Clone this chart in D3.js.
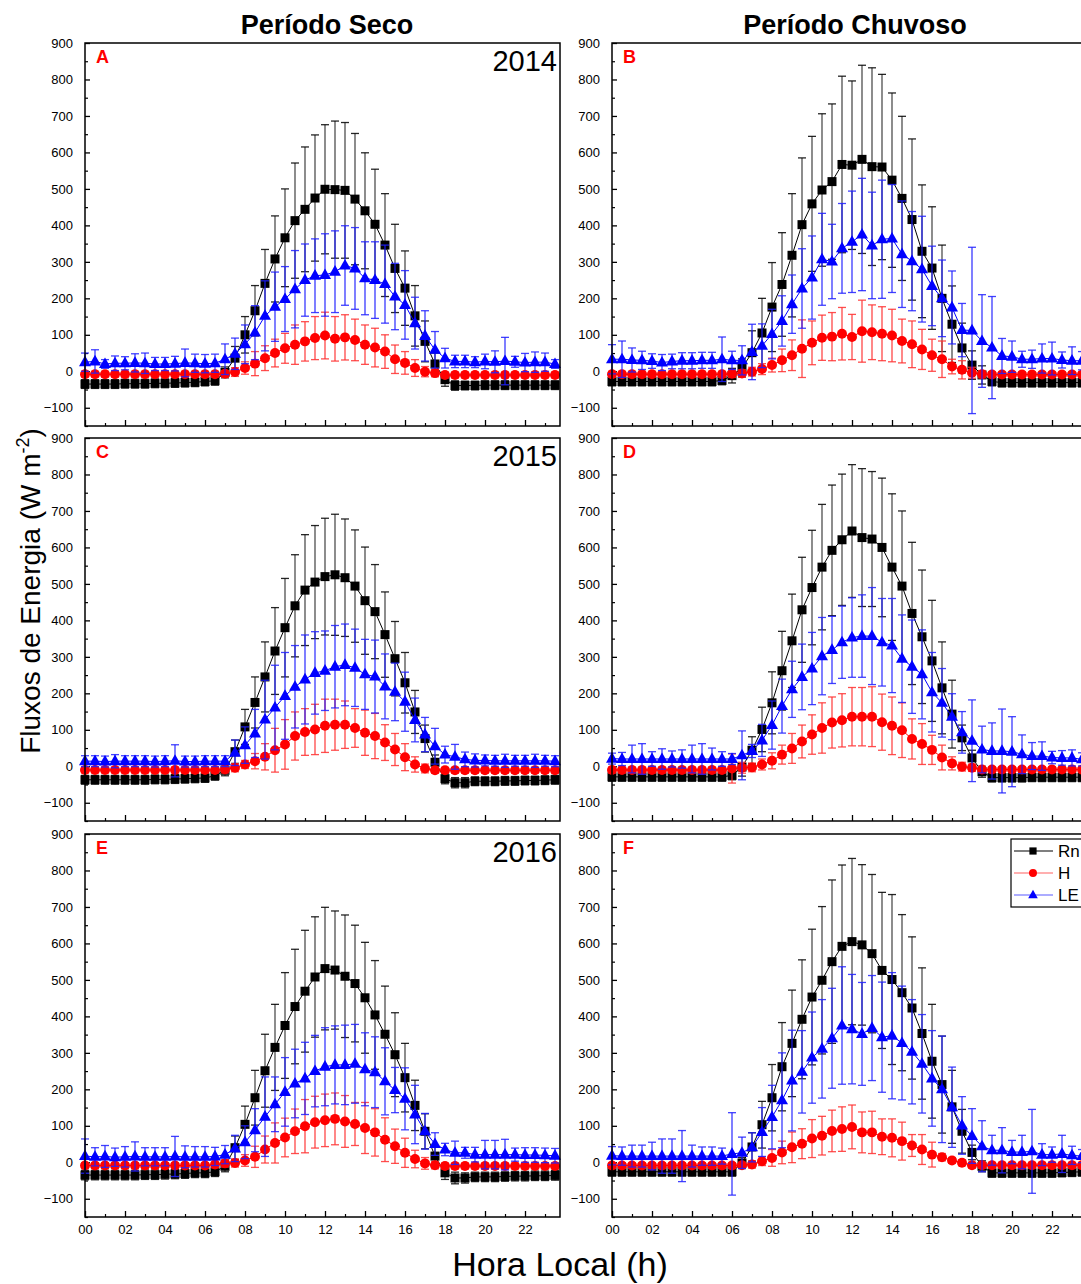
<!DOCTYPE html>
<html><head><meta charset="utf-8">
<script src="https://cdn.jsdelivr.net/npm/d3@7"></script>
<style>
body{margin:0;background:#fff}
svg{display:block}
text{font-family:Arial,"Liberation Sans",sans-serif}
</style>
</head><body>
<svg id="chart" width="1081" height="1284"></svg>
<script>
// ---------- categories / labels ----------
const hours = [0,0.5,1,1.5,2,2.5,3,3.5,4,4.5,5,5.5,6,6.5,7,7.5,8,8.5,9,9.5,10,10.5,11,11.5,12,12.5,13,13.5,14,14.5,15,15.5,16,16.5,17,17.5,18,18.5,19,19.5,20,20.5,21,21.5,22,22.5,23,23.5];
const xTickValues = [0,2,4,6,8,10,12,14,16,18,20,22];
const xTickLabels = ["00","02","04","06","08","10","12","14","16","18","20","22"];
const yTickValues = [-100,0,100,200,300,400,500,600,700,800,900];
const seriesNames = ["Rn","H","LE"];
const panelLetters = ["A","B","C","D","E","F"];
const columnTitles = ["Período Seco","Período Chuvoso"];
const yearLabels = ["2014","2015","2016"];

// ---------- Panel A (2014, seco) ----------
const A_Rn = [-35,-35,-35,-35,-34,-34,-34,-33,-33,-32,-31,-30,-28,-26,-3,36,100,166,241,308,366,413,444,475,499,498,496,472,440,403,346,282,228,152,82,20,-23,-39,-39,-39,-38,-38,-38,-38,-38,-38,-38,-38];
const A_Rn_sd = [12,12,12,12,12,12,12,12,12,12,12,12,12,12,15,32,50,69,93,118,134,158,171,173,177,188,186,180,159,151,141,121,102,83,56,30,18,13,12,12,12,12,12,12,12,12,12,12];
const A_H = [-8,-8,-8,-8,-8,-8,-8,-8,-8,-8,-8,-8,-8,-8,-7,-2,9,21,36,50,63,73,82,91,98,89,93,86,73,65,54,33,23,9,-1,-5,-10,-10,-10,-10,-10,-10,-10,-10,-10,-10,-10,-10];
const A_H_sd = [8,8,8,8,8,8,8,8,8,8,8,8,8,8,9,12,17,33,34,38,41,54,54,59,64,61,62,57,54,53,46,39,31,23,14,10,8,8,8,8,8,8,8,8,8,8,8,8];
const A_LE = [25,27,20,22,22,23,22,20,20,21,23,22,21,22,33,48,74,106,152,177,198,225,250,262,264,273,290,282,255,250,239,205,182,132,97,59,36,27,27,25,27,26,28,26,24,25,25,20];
const A_LE_sd = [25,32,12,20,18,25,28,18,18,20,38,25,25,25,42,43,53,74,96,95,89,106,99,101,113,112,109,112,100,105,107,91,94,71,69,50,27,17,17,15,20,30,65,15,25,28,25,12];

// ---------- Panel B (2014, chuvoso) ----------
const B_Rn = [-28,-28,-28,-28,-28,-28,-28,-28,-28,-28,-28,-25,-12,9,51,105,176,238,318,402,459,497,520,567,565,581,561,560,524,474,416,329,283,200,129,64,17,-10,-28,-31,-31,-31,-31,-31,-31,-31,-31,-31];
const B_Rn_sd = [12,12,12,12,12,12,12,12,12,12,12,12,20,25,60,95,122,142,169,183,185,209,213,242,231,258,271,254,239,225,221,182,168,146,105,68,39,25,12,12,12,12,12,12,12,12,12,12];
const B_H = [-8,-8,-8,-8,-8,-8,-8,-8,-8,-8,-8,-8,-7,-6,-1,6,17,30,44,62,78,92,95,103,94,110,107,103,98,83,74,60,44,33,13,4,-4,-8,-9,-9,-9,-9,-9,-9,-9,-9,-9,-9];
const B_H_sd = [8,8,8,8,8,8,8,8,8,8,8,8,10,10,12,15,19,31,42,79,60,62,66,72,62,85,75,74,72,60,64,55,44,50,20,25,15,10,8,8,8,8,8,8,8,8,8,8];
const B_LE = [33,33,31,30,28,24,27,29,29,30,30,33,30,30,53,70,102,138,184,227,257,307,301,337,355,375,345,362,364,321,302,280,234,200,175,113,112,83,65,42,40,33,33,35,35,31,29,29];
const B_LE_sd = [40,50,33,25,20,22,20,22,22,22,22,61,25,40,76,60,68,69,80,109,114,126,102,123,139,154,146,162,148,146,136,145,109,105,100,73,228,127,140,48,43,22,25,40,45,22,38,25];

// ---------- Panel C (2015, seco) ----------
const C_Rn = [-37,-37,-37,-37,-37,-37,-37,-36,-36,-35,-34,-33,-32,-26,-11,40,108,175,245,316,380,440,483,505,520,525,517,494,454,424,361,295,229,149,76,11,-34,-45,-45,-41,-41,-41,-40,-40,-39,-39,-38,-37];
const C_Rn_sd = [12,12,12,12,12,12,12,12,12,12,12,12,12,12,15,32,48,70,96,119,135,140,152,155,160,166,161,154,147,129,117,102,83,59,37,20,14,14,14,12,12,12,12,12,12,12,12,12];
const C_H = [-10,-10,-10,-10,-10,-10,-10,-10,-10,-10,-10,-10,-10,-10,-9,-4,5,14,26,44,60,83,94,101,111,114,114,105,92,83,65,46,25,5,-6,-11,-11,-11,-11,-11,-11,-11,-11,-11,-11,-11,-11,-11];
const C_H_sd = [8,8,8,8,8,8,8,8,8,8,8,8,8,8,9,11,11,21,36,60,68,66,64,69,73,70,65,53,62,62,49,44,37,21,12,8,8,8,8,8,8,8,8,8,8,8,8,8];
const C_LE = [14,14,13,14,14,14,14,13,14,15,13,13,14,14,14,37,58,90,128,161,193,218,238,256,262,273,278,270,252,246,219,204,177,127,87,55,32,26,19,16,16,15,15,15,15,15,15,14];
const C_LE_sd = [15,15,15,18,15,15,15,15,15,44,15,15,15,15,15,35,50,66,108,116,119,113,122,113,109,113,112,106,96,100,89,79,81,60,47,49,23,34,20,18,15,15,18,15,15,18,15,15];

// ---------- Panel D (2015, chuvoso) ----------
const D_Rn = [-29,-29,-29,-29,-29,-29,-29,-29,-29,-29,-29,-29,-25,-2,44,101,174,262,344,429,490,546,592,621,645,627,623,600,546,494,419,355,289,215,143,78,23,-15,-31,-31,-31,-31,-30,-30,-30,-30,-30,-30];
const D_Rn_sd = [12,12,12,12,12,12,12,12,12,12,12,12,12,25,37,61,85,108,128,144,157,172,179,180,182,189,185,190,201,206,195,183,166,126,93,35,21,15,12,12,12,12,12,12,12,12,12,12];
const D_H = [-10,-10,-10,-10,-10,-10,-10,-10,-10,-10,-10,-10,-6,-4,-3,5,15,32,49,68,87,105,120,126,136,136,136,121,111,99,75,61,45,24,8,-1,-4,-9,-9,-9,-9,-9,-9,-9,-9,-9,-9,-9];
const D_H_sd = [8,8,8,8,8,8,8,8,8,8,8,8,40,15,12,15,22,26,41,45,54,69,70,73,80,80,82,77,79,75,55,56,40,34,18,12,10,8,8,8,8,8,8,8,8,8,8,8];
const D_LE = [21,20,20,20,20,20,20,20,20,20,20,20,20,30,42,71,113,165,211,245,268,302,319,340,353,357,357,340,331,295,273,252,203,174,136,93,70,46,42,42,40,33,28,28,24,23,23,19];
const D_LE_sd = [15,18,38,42,20,28,22,25,38,42,30,20,15,67,18,44,66,74,77,90,99,106,92,99,109,113,133,120,129,120,128,122,109,94,63,57,112,64,77,115,96,53,37,39,17,20,22,18];

// ---------- Panel E (2016, seco) ----------
const E_Rn = [-35,-35,-35,-35,-35,-35,-34,-34,-33,-32,-31,-29,-29,-26,-11,40,104,177,251,315,375,427,469,508,531,527,510,490,451,404,351,295,232,156,85,17,-29,-43,-43,-40,-40,-40,-39,-38,-38,-37,-37,-36];
const E_Rn_sd = [13,13,13,13,13,13,13,13,13,13,13,13,13,13,15,32,50,75,100,118,145,157,167,165,168,162,168,160,152,149,132,115,94,69,48,25,18,16,14,13,13,13,13,13,13,13,13,13];
const E_H = [-9,-9,-9,-9,-9,-9,-9,-9,-9,-9,-9,-9,-9,-6,-3,-2,5,15,35,53,68,85,99,110,115,119,112,105,94,82,62,44,26,9,-3,-8,-10,-10,-10,-10,-10,-10,-10,-10,-10,-10,-10,-10];
const E_H_sd = [8,8,8,8,8,8,8,8,8,8,8,8,8,9,10,11,16,29,37,55,53,61,73,71,72,71,71,59,70,65,60,47,40,24,16,10,8,8,8,8,8,8,8,8,8,8,8,8];
const E_LE = [17,15,16,14,15,16,15,15,15,16,15,15,15,16,21,38,55,88,125,159,193,216,230,250,262,267,267,270,255,247,222,198,174,131,85,50,35,26,26,21,21,21,21,21,20,20,19,18];
const E_LE_sd = [47,25,30,25,28,40,25,25,25,55,30,28,28,25,25,36,45,59,109,75,94,94,99,98,107,107,109,108,100,97,92,62,85,80,49,31,17,32,15,20,39,39,42,18,20,20,20,20];

// ---------- Panel F (2016, chuvoso) ----------
const F_Rn = [-26,-26,-26,-26,-26,-26,-26,-26,-26,-26,-26,-26,-26,-2,42,103,177,262,326,392,453,499,550,592,605,596,572,526,501,465,423,353,277,213,152,85,27,-11,-29,-29,-29,-29,-29,-29,-29,-28,-27,-26];
const F_Rn_sd = [12,12,12,12,12,12,12,12,12,12,12,12,12,15,39,64,91,121,146,163,186,202,224,223,228,220,217,214,233,214,195,180,156,133,100,60,20,15,12,12,12,12,12,12,12,12,12,12];
const F_H = [-9,-9,-9,-9,-9,-9,-9,-9,-9,-9,-9,-9,-9,-8,-6,3,12,27,41,51,65,73,86,91,97,82,82,70,67,58,46,35,21,14,5,-1,-8,-8,-8,-8,-8,-8,-8,-8,-8,-8,-8,-8];
const F_H_sd = [8,8,8,8,8,8,8,8,8,8,8,8,8,8,10,12,23,31,42,41,52,53,57,61,60,56,58,49,52,52,30,41,34,10,8,8,8,8,8,8,8,8,8,8,8,8,8,8];
const F_LE = [18,17,17,17,17,17,17,17,17,17,17,17,23,26,41,83,124,170,224,248,287,311,340,375,365,352,368,343,347,327,303,270,230,200,151,101,72,44,33,33,28,28,30,21,21,23,19,17];
const F_LE_sd = [25,25,30,30,38,47,47,70,30,25,25,22,113,43,40,67,87,130,138,113,125,135,137,161,150,141,144,151,173,156,143,135,131,146,110,79,75,70,41,62,32,46,115,30,21,51,25,18];

// ---------- assemble ----------
const panelData = [
  [[A_Rn,A_Rn_sd],[A_H,A_H_sd],[A_LE,A_LE_sd]],
  [[B_Rn,B_Rn_sd],[B_H,B_H_sd],[B_LE,B_LE_sd]],
  [[C_Rn,C_Rn_sd],[C_H,C_H_sd],[C_LE,C_LE_sd]],
  [[D_Rn,D_Rn_sd],[D_H,D_H_sd],[D_LE,D_LE_sd]],
  [[E_Rn,E_Rn_sd],[E_H,E_H_sd],[E_LE,E_LE_sd]],
  [[F_Rn,F_Rn_sd],[F_H,F_H_sd],[F_LE,F_LE_sd]]
];

const styles = [
  {line:"#000", marker:"#000", err:"#333", cap:"#000", shape:"square", legendLine:"#000"},
  {line:"#ff0000", marker:"#ff0000", err:"#ff2a2a", cap:"#ff3030", shape:"circle", legendLine:"#ff6060"},
  {line:"#0000ff", marker:"#0000ff", err:"#1a1aff", cap:"#2020ff", shape:"triangle", legendLine:"#5a5aff"}
];

const W = 475, H = 383;
const colX = [85, 612], rowY = [43, 438, 834];
const x = d3.scaleLinear().domain([0, 23.75]).range([0, W]);
const y = d3.scaleLinear().domain([-150, 900]).range([H, 0]);

const svg = d3.select("#chart");

function markerPath(shape){
  if(shape==="square") return "M-4.5,-4.5H4.5V4.5H-4.5Z";
  if(shape==="circle") return d3.symbol(d3.symbolCircle, 78)();
  return "M0,-6.6L6,4L-6,4Z";
}

panelData.forEach((series, p) => {
  const col = p % 2, row = Math.floor(p / 2);
  const g = svg.append("g").attr("transform", `translate(${colX[col]},${rowY[row]})`);

  const yAxis = d3.axisLeft(y).tickValues(yTickValues).tickSize(-5).tickPadding(12).tickFormat(d3.format("d"));
  const yg = g.append("g").call(yAxis);
  yg.select(".domain").remove();
  yg.selectAll("text").attr("font-size", 13).attr("fill", "#000").attr("font-family", "Arial, 'Liberation Sans', sans-serif");
  yg.selectAll("line").attr("stroke", "#000").attr("stroke-width", 1.3);
  const yMinor = d3.axisLeft(y).tickValues(yTickValues.slice(0, -1).map(v => v + 50).concat([-150 + 0])).tickSize(-3).tickFormat("");
  const ymg = g.append("g").call(yMinor);
  ymg.select(".domain").remove();
  ymg.selectAll("line").attr("stroke", "#000").attr("stroke-width", 1.2);

  const xAxis = d3.axisBottom(x).tickValues(xTickValues).tickSize(-6).tickPadding(8)
      .tickFormat((d, i) => row === 2 ? xTickLabels[i] : "");
  const xg = g.append("g").attr("transform", `translate(0,${H})`).call(xAxis);
  xg.select(".domain").remove();
  xg.selectAll("text").attr("font-size", 13).attr("fill", "#000").attr("font-family", "Arial, 'Liberation Sans', sans-serif");
  xg.selectAll("line").attr("stroke", "#000").attr("stroke-width", 1.3);
  const xMinor = d3.axisBottom(x).tickValues(xTickValues.map(v => v + 1)).tickSize(-3).tickFormat("");
  const xmg = g.append("g").attr("transform", `translate(0,${H})`).call(xMinor);
  xmg.select(".domain").remove();
  xmg.selectAll("line").attr("stroke", "#000").attr("stroke-width", 1.2);

  series.forEach(([vals, sds], s) => {
    const st = styles[s];
    const pts = hours.map((h, i) => ({h, v: vals[i], sd: sds[i]}));
    const eg = g.append("g");
    eg.selectAll("line.err").data(pts).join("line")
      .attr("x1", d => x(d.h)).attr("x2", d => x(d.h))
      .attr("y1", d => y(d.v + d.sd)).attr("y2", d => y(d.v - d.sd))
      .attr("stroke", st.err).attr("stroke-width", 1.4).attr("stroke-opacity", 0.8);
    eg.selectAll("line.capt").data(pts).join("line")
      .attr("x1", d => x(d.h) - 4).attr("x2", d => x(d.h) + 4)
      .attr("y1", d => y(d.v + d.sd)).attr("y2", d => y(d.v + d.sd))
      .attr("stroke", st.cap).attr("stroke-width", 1.3).attr("stroke-opacity", 0.85);
    eg.selectAll("line.capb").data(pts).join("line")
      .attr("x1", d => x(d.h) - 4).attr("x2", d => x(d.h) + 4)
      .attr("y1", d => y(d.v - d.sd)).attr("y2", d => y(d.v - d.sd))
      .attr("stroke", st.cap).attr("stroke-width", 1.3).attr("stroke-opacity", 0.85);

    g.append("path").datum(pts)
      .attr("d", d3.line().x(d => x(d.h)).y(d => y(d.v)))
      .attr("fill", "none").attr("stroke", st.line).attr("stroke-width", 1);

    g.append("g").selectAll("path").data(pts).join("path")
      .attr("transform", d => `translate(${x(d.h)},${y(d.v)})`)
      .attr("d", markerPath(st.shape)).attr("fill", st.marker);
  });

  g.append("rect").attr("x", 0).attr("y", 0).attr("width", W).attr("height", H)
    .attr("fill", "none").attr("stroke", "#000").attr("stroke-width", 1.5);

  g.append("text").attr("x", 11).attr("y", 20).text(panelLetters[p])
    .attr("font-size", 18).attr("font-weight", "bold").attr("fill", "#ff0000");

  if (col === 0) {
    g.append("text").attr("x", W - 3).attr("y", 28).attr("text-anchor", "end")
      .text(yearLabels[row]).attr("font-size", 29).attr("fill", "#000");
  }

  if (p === 5) {
    const lg = g.append("g").attr("transform", "translate(399,5)");
    lg.append("rect").attr("x", 0).attr("y", 0).attr("width", 100).attr("height", 68)
      .attr("fill", "#fff").attr("stroke", "#000").attr("stroke-width", 1.2);
    seriesNames.forEach((name, s) => {
      const st = styles[s];
      const yy = 12 + s * 22;
      lg.append("line").attr("x1", 3).attr("x2", 42).attr("y1", yy).attr("y2", yy)
        .attr("stroke", st.legendLine).attr("stroke-width", 1.2);
      lg.append("path").attr("d", markerPath(st.shape)).attr("fill", st.marker)
        .attr("transform", `translate(22,${yy}) scale(0.8)`);
      lg.append("text").attr("x", 47).attr("y", yy + 6).text(name).attr("font-size", 17).attr("fill", "#000");
    });
  }
});

columnTitles.forEach((t, c) => {
  svg.append("text").attr("x", colX[c] + (c === 0 ? 242 : 243)).attr("y", 34)
    .attr("text-anchor", "middle").attr("font-size", 27).attr("font-weight", "bold").text(t);
});

const yt = svg.append("text").attr("transform", "translate(40,591) rotate(-90)")
  .attr("text-anchor", "middle").attr("font-size", 28);
yt.append("tspan").text("Fluxos de Energia (W m");
yt.append("tspan").text("-2").attr("font-size", 18).attr("dy", -11);
yt.append("tspan").text(")").attr("dy", 11);

svg.append("text").attr("x", 560).attr("y", 1276).attr("text-anchor", "middle")
  .attr("font-size", 34).text("Hora Local (h)");
</script>
</body></html>
